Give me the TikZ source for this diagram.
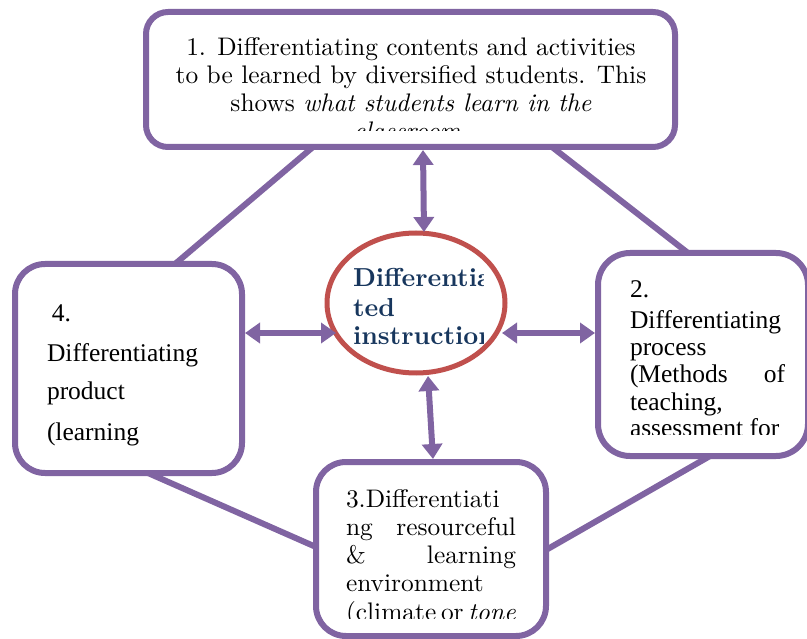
\documentclass[tikz,border=0pt]{standalone}
\usepackage{fontspec}
\newfontfamily\cambria{Liberation Serif}
\newfontfamily\lmten{lmroman10}[Extension=.otf, UprightFont=*-regular, BoldFont=*-bold, ItalicFont=*-italic, BoldItalicFont=*-bolditalic]
\usetikzlibrary{arrows.meta,calc,shapes.geometric,backgrounds}
\definecolor{boxpurple}{RGB}{128,100,162}
\definecolor{ellred}{RGB}{192,80,77}
\definecolor{navy}{RGB}{23,54,93}
\begin{document}
\begin{tikzpicture}[x=1pt,y=-1pt,
  box/.style={draw=boxpurple, line width=6pt, fill=white, outer sep=0pt, inner sep=0pt},
  conn/.style={draw=boxpurple, line width=6pt},
  dbl/.style={draw=boxpurple, line width=6pt, {Triangle[width=20pt,length=15pt]}-{Triangle[width=20pt,length=15pt]}},
  txt/.style={inner sep=0pt, outer sep=0pt},
  lmfont/.style={font=\lmten\fontsize{25.4}{28}\selectfont},
  cbfont/.style={font=\cambria\fontsize{25.5}{28}\selectfont},
  ctfont/.style={font=\lmten\fontsize{26}{29}\selectfont\bfseries, text=navy},
]
\useasboundingbox (0,0) rectangle (807,639);

% boxes
\node[box, rounded corners=22pt, minimum width=529pt, minimum height=135pt] (b1) at (410.5,79.5) {};
\node[box, rounded corners=32pt, minimum width=210pt, minimum height=203pt] (b2) at (703,354.5) {};
\node[box, rounded corners=30pt, minimum width=230pt, minimum height=174pt] (b3) at (431,549) {};
\node[box, rounded corners=30pt, minimum width=227pt, minimum height=209pt] (b4) at (128.5,368.5) {};
\node[draw=ellred, fill=white, line width=5pt, ellipse, minimum width=178pt, minimum height=140pt, inner sep=0pt, outer sep=0pt] (ell) at (416,303) {};

% connectors between boxes
\begin{pgfonlayer}{background}
\draw[conn] ($(b1.south west)+(167,0)$) -- ($(b4.north west)+(160,0)$);
\draw[conn] ($(b1.south west)+(406,0)$) -- ($(b2.north west)+(90,0)$);
\draw[conn] ($(b4.south west)+(133,0)$) -- ($(b3.north west)+(0,85)$);
\draw[conn] ($(b2.south west)+(112,0)$) -- ($(b3.north east)+(0,88)$);
\end{pgfonlayer}

% double arrows
\draw[dbl] ($(b1.south west)+(277,3)$) -- ($(ell.center)+(8,-71)$);
\draw[dbl] ($(ell.center)+(12,73)$) -- ($(b3.north)+(2,-3)$);
\draw[dbl] ($(b4.east)+(3,-35.5)$) -- ($(ell.center)+(-80,30)$);
\draw[dbl] ($(ell.center)+(86,30)$) -- ($(b2.west)+(-3,-21.5)$);

% box 1 text
\begin{scope}
\clip (150,15) rectangle (672,131);
\node[txt, lmfont, anchor=base] (t1a) at (411,56) {1. Differentiating contents and activities};
\node[txt, lmfont, anchor=base] (t1b) at (411,84) {to be learned by diversified students. This};
\node[txt, lmfont, anchor=base] (t1c) at (411,112) {shows \textit{what students learn in the}};
\node[txt, lmfont, anchor=base] (t1d) at (411,140) {\textit{classroom.}};
\end{scope}

% centre text
\begin{scope}
\clip (335,250) rectangle (483,360);
\node[txt, ctfont, anchor=base west] (c1) at (353,287) {Differentiated};
\node[txt, ctfont, anchor=base west] (c2) at (353,317) {ted};
\node[txt, ctfont, anchor=base west] (c3) at (353,345) {instruction};
\end{scope}

% box 2 text
\begin{scope}
\clip (602,258) rectangle (800,435);
\node[txt, cbfont, anchor=base west] (t2a) at (630,298) {2.};
\node[txt, cbfont, anchor=base west] (t2b) at (630,329) {Differentiating};
\node[txt, cbfont, anchor=base west] (t2c) at (630,356) {process};
\node[txt, cbfont, anchor=base west] (t2d) at (630,383) {\hbox to 155pt{(Methods\hfill of}};
\node[txt, cbfont, anchor=base west] (t2e) at (630,410) {teaching,};
\node[txt, cbfont, anchor=base west] (t2f) at (630,437) {assessment for};
\end{scope}

% box 3 text
\begin{scope}
\clip (320,466) rectangle (542,618);
\node[txt, lmfont, anchor=base west] (t3a) at (346,507) {\hbox to 170pt{3.Differentiati\hfill}};
\node[txt, lmfont, anchor=base west] (t3b) at (346,535) {\hbox to 170pt{ng\hfill resourceful}};
\node[txt, lmfont, anchor=base west] (t3c) at (346,563) {\hbox to 170pt{\&\hfill learning}};
\node[txt, lmfont, anchor=base west] (t3d) at (346,591) {environment};
\node[txt, lmfont, anchor=base west] (t3e) at (346,620) {\hbox to 170pt{(climate\hfill or\hfill \textit{tone}}};
\end{scope}

% box 4 text
\node[txt, cbfont, anchor=base west] (t4a) at (52,322) {4.};
\node[txt, cbfont, anchor=base west] (t4b) at (47,362) {Differentiating};
\node[txt, cbfont, anchor=base west] (t4c) at (47,400) {product};
\node[txt, cbfont, anchor=base west] (t4d) at (47,440) {(learning};
\end{tikzpicture}
\end{document}
